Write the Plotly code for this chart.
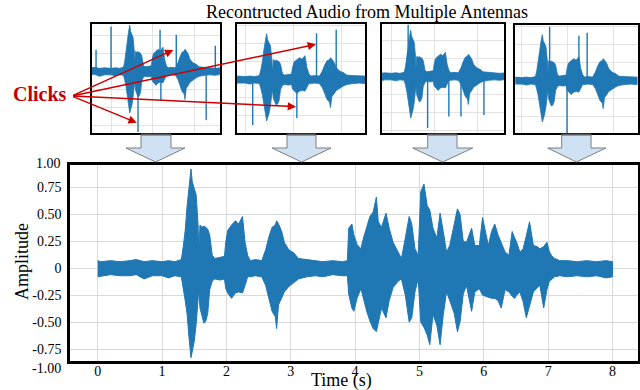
import plotly.graph_objects as go

W, H = 640, 390

# ---------------- data ----------------
# envelope of the reconstructed audio (time in s, upper / lower amplitude)
t_env = [0.00, 0.05, 0.20, 0.35, 0.50, 0.60, 0.72, 0.85, 1.00, 1.10, 1.20, 1.30,
         1.33, 1.36, 1.39, 1.42, 1.45, 1.47, 1.50, 1.53, 1.56, 1.57, 1.59, 1.62,
         1.65, 1.68, 1.71, 1.74, 1.78, 1.82, 1.90, 1.97, 1.99, 2.02, 2.08, 2.14,
         2.19, 2.25, 2.29, 2.33, 2.37, 2.45, 2.55, 2.61, 2.66, 2.71, 2.76, 2.78,
         2.81, 2.86, 2.90, 2.97, 3.05, 3.12, 3.25, 3.38, 3.50, 3.65, 3.80, 3.88,
         3.90, 3.95, 3.98, 4.03, 4.09, 4.13, 4.18, 4.23, 4.28, 4.33, 4.36, 4.41,
         4.48, 4.53, 4.59, 4.67, 4.72, 4.78, 4.84, 4.88, 4.93, 4.98, 5.02, 5.07,
         5.12, 5.16, 5.21, 5.27, 5.32, 5.37, 5.42, 5.47, 5.54, 5.59, 5.63, 5.68,
         5.73, 5.81, 5.86, 5.93, 5.98, 6.02, 6.07, 6.12, 6.17, 6.22, 6.27, 6.33,
         6.39, 6.44, 6.48, 6.51, 6.56, 6.61, 6.66, 6.71, 6.77, 6.83, 6.87, 6.93,
         6.98, 7.02, 7.05, 7.10, 7.18, 7.30, 7.45, 7.60, 7.75, 7.90, 8.00]
upper_env = [0.07, 0.06, 0.07, 0.06, 0.07, 0.08, 0.06, 0.07, 0.06, 0.07, 0.06, 0.08,
             0.20, 0.35, 0.58, 0.78, 0.92, 0.80, 0.74, 0.68, 0.40, 0.15, 0.40, 0.38,
             0.39, 0.38, 0.36, 0.31, 0.12, 0.09, 0.10, 0.11, 0.24, 0.35, 0.40, 0.44,
             0.41, 0.48, 0.24, 0.12, 0.07, 0.08, 0.07, 0.17, 0.29, 0.38, 0.40, 0.44,
             0.41, 0.34, 0.24, 0.17, 0.14, 0.09, 0.08, 0.07, 0.06, 0.07, 0.06, 0.07,
             0.37, 0.41, 0.31, 0.22, 0.18, 0.28, 0.37, 0.48, 0.52, 0.66, 0.43, 0.38,
             0.51, 0.37, 0.24, 0.14, 0.09, 0.28, 0.48, 0.41, 0.18, 0.12, 0.71, 0.78,
             0.58, 0.54, 0.37, 0.28, 0.51, 0.34, 0.15, 0.21, 0.41, 0.55, 0.50, 0.25,
             0.24, 0.37, 0.21, 0.21, 0.47, 0.34, 0.21, 0.34, 0.41, 0.31, 0.24, 0.15,
             0.12, 0.34, 0.28, 0.24, 0.15, 0.18, 0.30, 0.43, 0.21, 0.20, 0.18, 0.20,
             0.24, 0.15, 0.12, 0.09, 0.07, 0.07, 0.06, 0.07, 0.06, 0.07, 0.06]
lower_env = [-0.08, -0.07, -0.06, -0.07, -0.07, -0.06, -0.10, -0.07, -0.07, -0.09, -0.07, -0.08,
             -0.18, -0.30, -0.43, -0.65, -0.83, -0.78, -0.68, -0.52, -0.30, -0.20, -0.37, -0.45,
             -0.51, -0.49, -0.42, -0.20, -0.12, -0.10, -0.11, -0.10, -0.19, -0.23, -0.28, -0.23,
             -0.22, -0.23, -0.16, -0.08, -0.08, -0.07, -0.08, -0.16, -0.28, -0.40, -0.45, -0.56,
             -0.34, -0.28, -0.22, -0.17, -0.13, -0.10, -0.08, -0.07, -0.08, -0.06, -0.07, -0.07,
             -0.24, -0.37, -0.40, -0.28, -0.19, -0.28, -0.40, -0.49, -0.56, -0.59, -0.50, -0.37,
             -0.46, -0.30, -0.18, -0.12, -0.10, -0.25, -0.50, -0.46, -0.22, -0.10, -0.50, -0.55,
             -0.62, -0.71, -0.43, -0.53, -0.71, -0.43, -0.22, -0.30, -0.42, -0.59, -0.50, -0.24,
             -0.16, -0.40, -0.22, -0.19, -0.25, -0.26, -0.27, -0.28, -0.28, -0.30, -0.37, -0.20,
             -0.22, -0.26, -0.28, -0.25, -0.22, -0.31, -0.46, -0.34, -0.22, -0.18, -0.16, -0.37,
             -0.20, -0.12, -0.10, -0.08, -0.07, -0.08, -0.07, -0.08, -0.07, -0.09, -0.08]

# click spikes seen on each antenna's reconstruction (time s, amplitude)
clicks_t = [[0.64, 1.00, 1.65, 2.18, 2.20, 2.57, 3.29, 3.51],
            [1.16, 2.08, 2.49, 2.90],
            [1.39, 1.84, 2.33, 2.61, 3.14],
            [1.61, 1.99, 2.25, 2.43]]
clicks_a = [[0.43, 0.89, -1.21, 0.83, -0.57, 0.73, -0.97, 0.51],
            [-0.91, -0.77, 0.93, 1.00],
            [1.03, -1.03, -0.80, -0.80, -0.77],
            [1.08, -1.05, 0.90, 0.96]]

x_ticks = [0, 1, 2, 3, 4, 5, 6, 7, 8]
y_ticks = [-0.75, -0.5, -0.25, 0, 0.25, 0.5, 0.75]
y_ticktext = ["-0.75", "-0.50", "-0.25", "0", "0.25", "0.50", "0.75"]
inset_x_ticks = [1, 2, 3]

# ---------------- layout helpers ----------------
def px(x):
    return x / W


def py(y):
    return 1 - y / H


BLUE = "#1f77b4"
SERIF = "Liberation Serif"

fig = go.Figure()

poly_x = t_env + t_env[::-1]
poly_y = upper_env + lower_env[::-1]

fig.add_trace(go.Scatter(x=poly_x, y=poly_y, fill="toself", fillcolor=BLUE,
                         mode="lines", line=dict(color=BLUE, width=1),
                         hoverinfo="skip", showlegend=False,
                         xaxis="x", yaxis="y"))

# insets: pixel boxes and data ranges
insets = [
    dict(box=(91.7, 220.3, 23.7, 133), xr=[0.535, 3.63], yr=[-1.23, 0.95]),
    dict(box=(237.0, 365.0, 23.7, 133), xr=[0.833, 3.50], yr=[-1.07, 1.12]),
    dict(box=(381.7, 504.3, 23.7, 133), xr=[0.78, 3.61], yr=[-1.13, 1.05]),
    dict(box=(515.3, 637.5, 24.7, 133), xr=[0.86, 3.53], yr=[-1.05, 1.12]),
]

layout_axes = {}
for i, ins in enumerate(insets):
    n = i + 2
    xa, ya = f"x{n}", f"y{n}"
    fig.add_trace(go.Scatter(x=poly_x, y=poly_y, fill="toself", fillcolor=BLUE,
                             mode="lines", line=dict(color=BLUE, width=0.8),
                             hoverinfo="skip", showlegend=False,
                             xaxis=xa, yaxis=ya))
    cx, cy = [], []
    for t, a in zip(clicks_t[i], clicks_a[i]):
        cx += [t, t, None]
        cy += [0, a, None]
    fig.add_trace(go.Scatter(x=cx, y=cy, mode="lines",
                             line=dict(color=BLUE, width=1.4),
                             hoverinfo="skip", showlegend=False,
                             xaxis=xa, yaxis=ya))
    x0, x1, y0, y1 = ins["box"]
    layout_axes[f"xaxis{n}"] = dict(domain=[px(x0), px(x1)], range=ins["xr"],
                                    anchor=ya, showticklabels=False, ticks="",
                                    tickvals=inset_x_ticks, showgrid=True,
                                    gridcolor="#e3e3e3", gridwidth=1,
                                    zeroline=False, showline=True, mirror=True,
                                    linecolor="black", linewidth=1.5)
    layout_axes[f"yaxis{n}"] = dict(domain=[py(y1), py(y0)], range=ins["yr"],
                                    anchor=xa, showticklabels=False, ticks="",
                                    tick0=0, dtick=0.36, showgrid=True,
                                    gridcolor="#e3e3e3", gridwidth=1,
                                    zeroline=False, showline=True, mirror=True,
                                    linecolor="black", linewidth=1.5)

fig.update_layout(
    width=W, height=H,
    margin=dict(l=0, r=0, t=0, b=0, autoexpand=False),
    paper_bgcolor="white", plot_bgcolor="white",
    showlegend=False,
    xaxis=dict(domain=[px(70), px(638.3)], range=[-0.43, 8.40],
               tickvals=x_ticks, ticks="", ticklabelstandoff=-5,
               tickfont=dict(family=SERIF, size=14, color="black"),
               showgrid=True, gridcolor="#d9d9d9", gridwidth=1,
               zeroline=False, showline=True, mirror=True,
               linecolor="black", linewidth=2.5, anchor="y"),
    yaxis=dict(domain=[py(361), py(165)], range=[-0.861, 0.957],
               tickvals=y_ticks, ticktext=y_ticktext, ticks="",
               ticklabelstandoff=3,
               tickfont=dict(family=SERIF, size=14, color="black"),
               showgrid=True, gridcolor="#d9d9d9", gridwidth=1,
               zeroline=False, showline=True, mirror=True,
               linecolor="black", linewidth=2.5, anchor="x"),
    **layout_axes,
)

annotations = [
    dict(text="Recontructed Audio from Multiple Antennas", x=px(367), y=py(12.5),
         font=dict(family=SERIF, size=18, color="black")),
    dict(text="<b>Clicks</b>", x=px(39.7), y=py(93.5),
         font=dict(family=SERIF, size=20, color="#c00000")),
    dict(text="Amplitude", x=px(22), y=py(262), textangle=-90,
         font=dict(family=SERIF, size=18, color="black")),
    dict(text="Time (s)", x=px(341.7), y=py(380),
         font=dict(family=SERIF, size=18, color="black")),
    dict(text="1.00", x=px(63), y=py(163), xanchor="right",
         font=dict(family=SERIF, size=14, color="black")),
    dict(text="-1.00", x=px(63), y=py(368), xanchor="right",
         font=dict(family=SERIF, size=14, color="black")),
]
for a in annotations:
    a.update(xref="paper", yref="paper", showarrow=False)
    a.setdefault("xanchor", "center")
    a.setdefault("yanchor", "middle")

# red arrows from "Clicks" label
tail = (71.7, 96)
heads = [(173.3, 50), (316, 44.3), (296, 106.7), (136.7, 122.7)]
for hx, hy in heads:
    annotations.append(dict(x=px(hx), y=py(hy), xref="paper", yref="paper",
                            ax=tail[0] - hx, ay=tail[1] - hy, text="",
                            showarrow=True, arrowhead=2, arrowsize=1.1,
                            arrowwidth=1.5, arrowcolor="#cc0000", standoff=0))

fig.update_layout(annotations=annotations)

# block arrows under each inset
shapes = []
for (s0, s1, h0, h1, tip) in [(141, 171, 126, 185, 155.5),
                              (287, 316, 272, 331, 301.5),
                              (427.7, 457, 412.7, 472.7, 442.7),
                              (561.7, 591, 547.7, 606, 576.3)]:
    top, base, tipy = 134.5, 148, 162
    path = (f"M{px(s0)},{py(top)} L{px(s0)},{py(base)} L{px(h0)},{py(base)} "
            f"L{px(tip)},{py(tipy)} L{px(h1)},{py(base)} L{px(s1)},{py(base)} "
            f"L{px(s1)},{py(top)} Z")
    shapes.append(dict(type="path", path=path, xref="paper", yref="paper",
                       fillcolor="#cfe1f3", line=dict(color="#7f7f7f", width=1)))
    shapes.append(dict(type="line", xref="paper", yref="paper",
                       x0=px(s0), x1=px(s1), y0=py(134.5), y1=py(134.5),
                       line=dict(color="#595959", width=2)))
fig.update_layout(shapes=shapes)

fig.write_html("out.html",
               config={"displayModeBar": False},
               post_script="document.body.style.margin='0px';"
                           "document.body.style.overflow='hidden';")
